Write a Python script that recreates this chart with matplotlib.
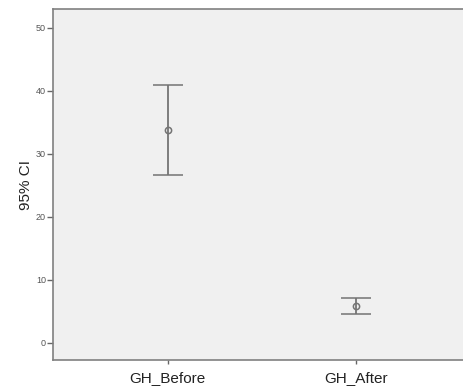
import matplotlib.pyplot as plt

# valeurs (IC 95 %)
categories = ["GH_Before", "GH_After"]
moyennes = [33.8, 5.9]
ic_bas = [26.6, 4.55]
ic_haut = [41.0, 7.1]

plt.rcParams['font.family'] = ['Liberation Sans', 'DejaVu Sans']

fig = plt.figure(figsize=(4.63, 3.90), dpi=100)
ax = fig.add_axes([53 / 463, 1 - 360 / 390, (471 - 53) / 463, (360 - 9) / 390])
ax.set_facecolor('#f0f0f0')

x = list(range(1, len(categories) + 1))
err_bas = [m - b for m, b in zip(moyennes, ic_bas)]
err_haut = [h - m for m, h in zip(moyennes, ic_haut)]
ax.errorbar(x, moyennes, yerr=[err_bas, err_haut], fmt='o', color='#747474',
            ecolor='#747474', elinewidth=1.3, capsize=10.5, capthick=1.3,
            markersize=4.5, markerfacecolor='none', markeredgewidth=1.1)

ax.set_xlim(0.39, 2.61)
ax.set_ylim(-2.7, 53.0)
ax.set_yticks([0, 10, 20, 30, 40, 50])
ax.set_xticks(x)
ax.set_xticklabels(categories, fontsize=11, color='#222222')
ax.tick_params(axis='y', labelsize=6.5, labelcolor='#555555', length=4,
               width=1, color='#666666', pad=1)
ax.tick_params(axis='x', length=3, width=1, color='#666666', pad=5)
ax.set_ylabel("95% CI", fontsize=11, color='#222222', labelpad=2)

for s in ax.spines.values():
    s.set_color('#808080')
    s.set_linewidth(1.2)
ax.spines['right'].set_visible(False)

fig.savefig("out.png", dpi=100)
